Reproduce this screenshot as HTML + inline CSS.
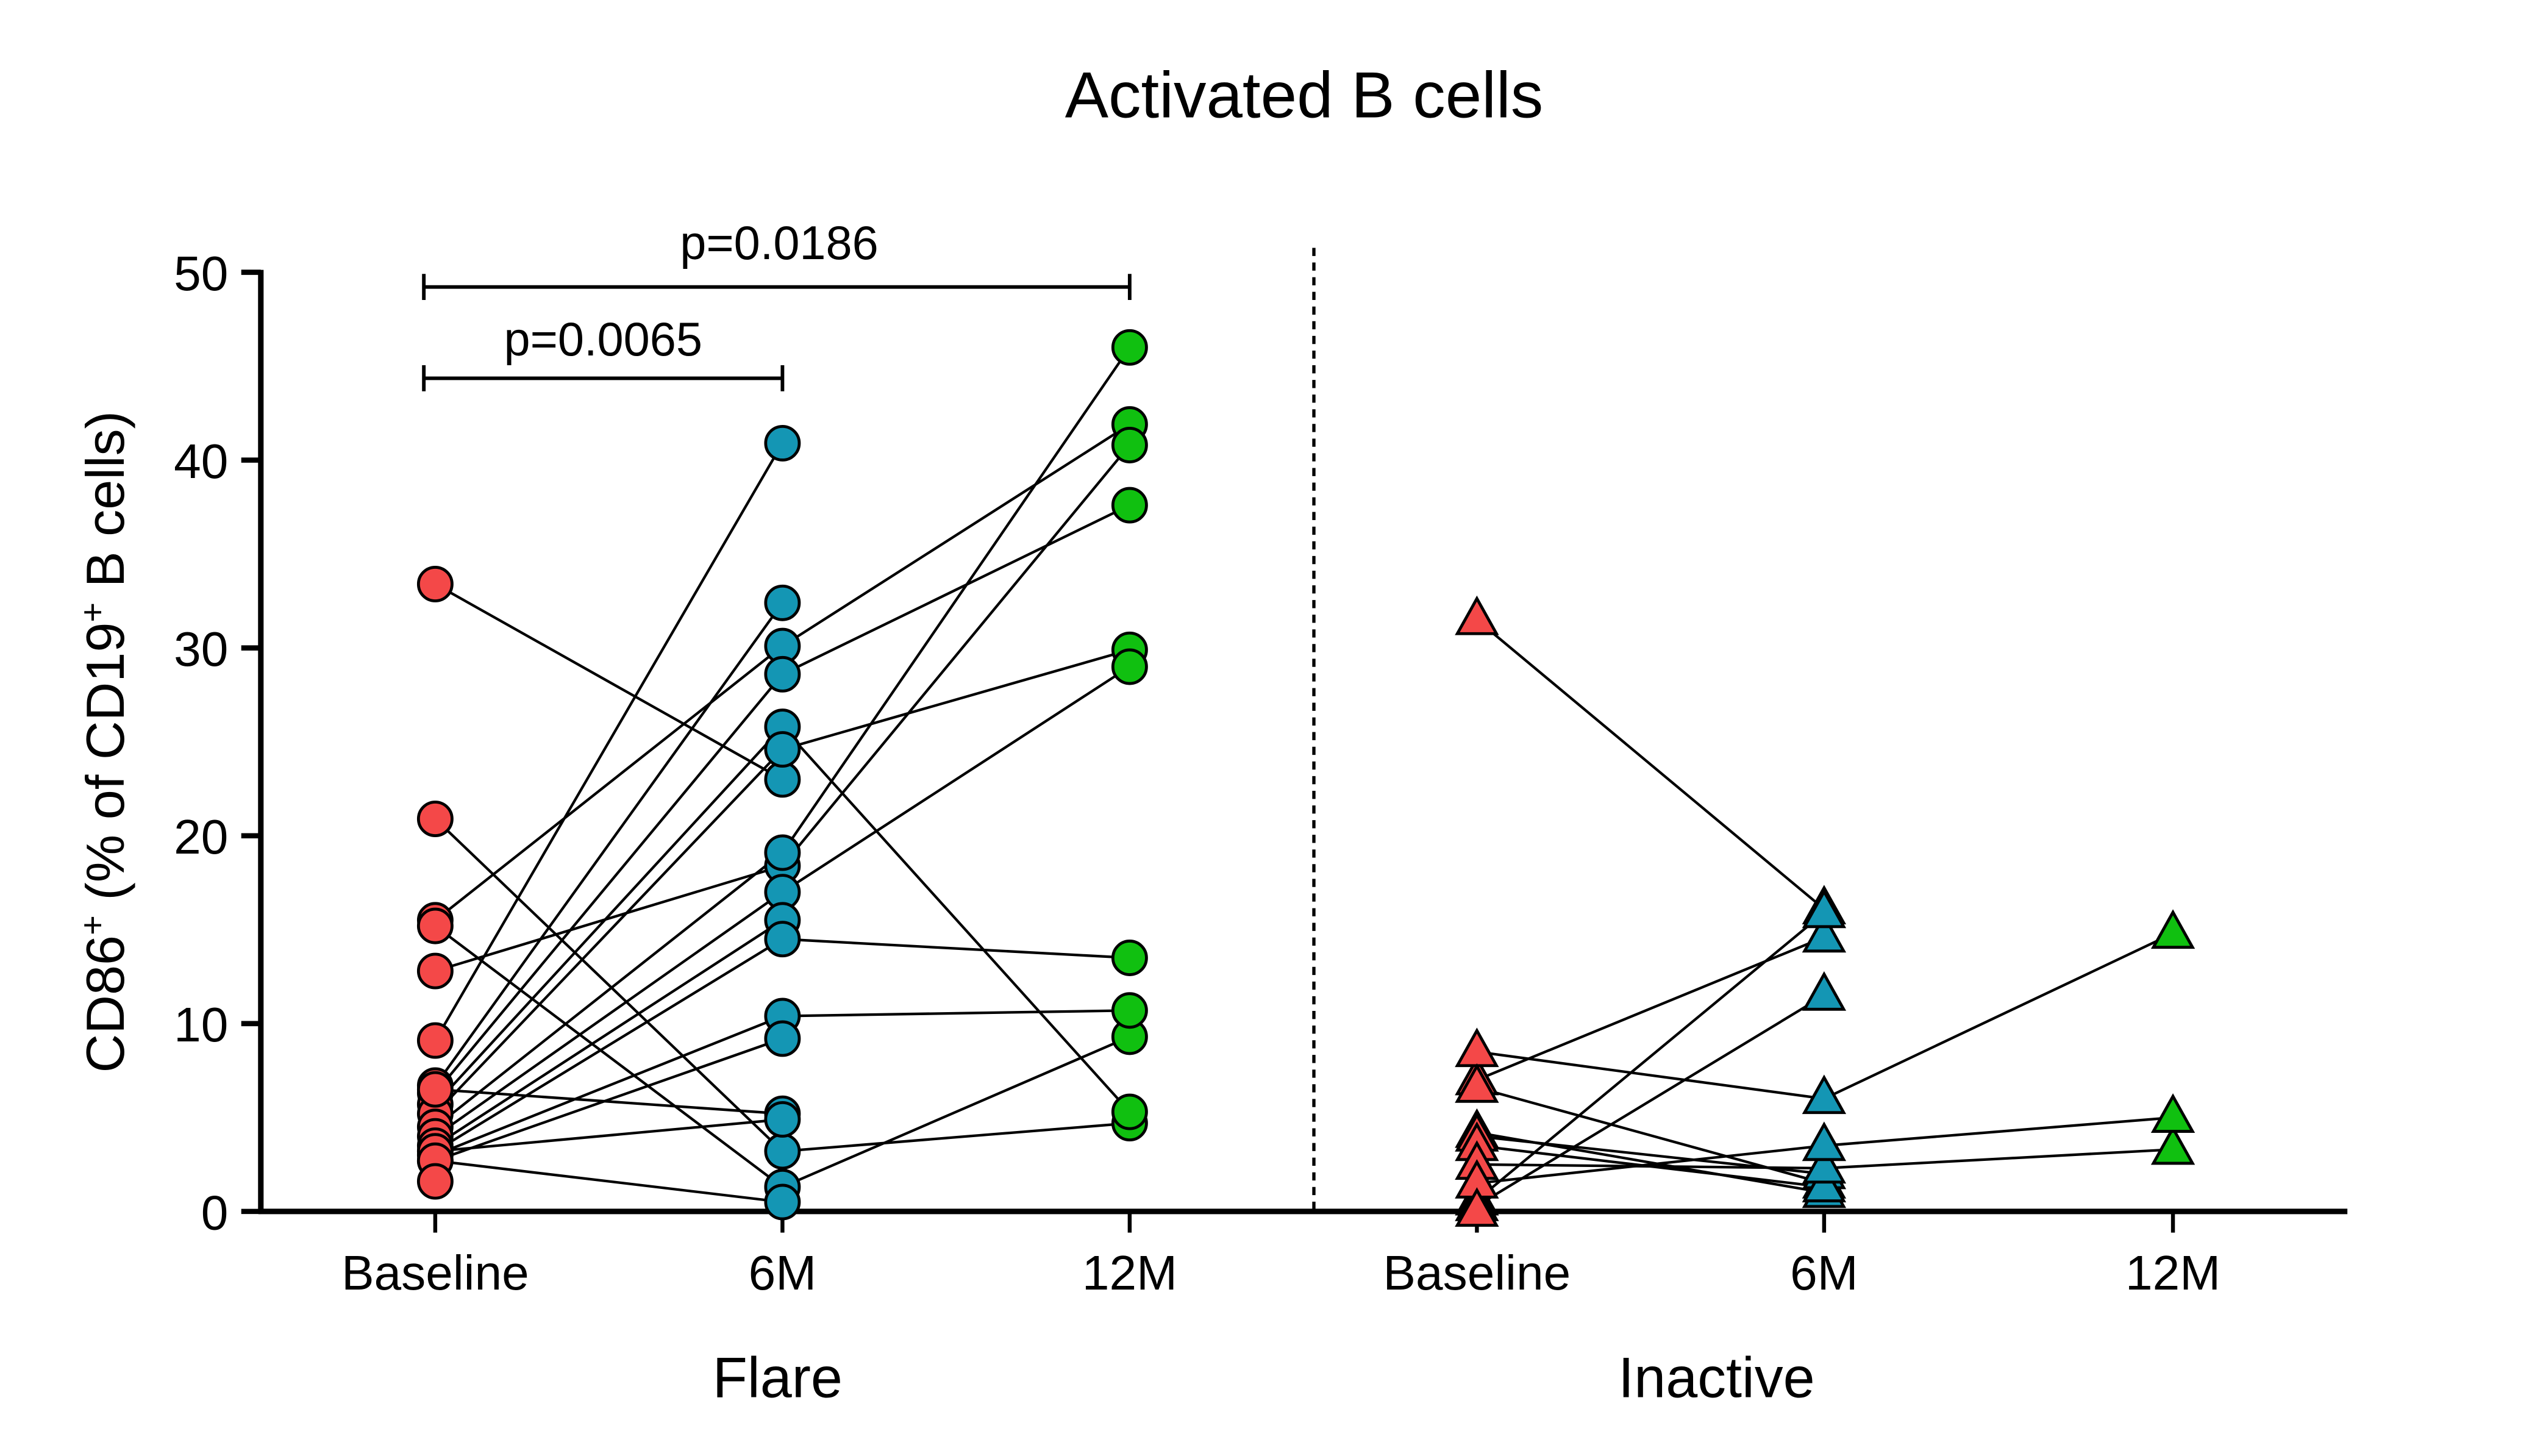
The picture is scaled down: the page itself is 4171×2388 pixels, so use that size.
<!DOCTYPE html>
<html><head><meta charset="utf-8"><style>
html,body{margin:0;padding:0;background:#fff;}
svg{display:block;font-family:"Liberation Sans",Arial,sans-serif;}
</style></head>
<body>
<svg id="chart" width="4171" height="2388" viewBox="0 0 1560 893" preserveAspectRatio="none" xmlns="http://www.w3.org/2000/svg">
<text x="800" y="72" text-anchor="middle" font-size="40">Activated B cells</text>
<text transform="translate(76,455) rotate(-90)" text-anchor="middle" font-size="33">CD86<tspan dy="-12" font-size="21">+</tspan><tspan dy="12"> (% of CD19</tspan><tspan dy="-12" font-size="21">+</tspan><tspan dy="12"> B cells)</tspan></text>
<g id="axes"></g>
<g id="lines"></g>
<g id="marks"></g>
<g stroke="#000" stroke-width="2.2" fill="none">
  <path d="M260,176 H693 M260,168 V184 M693,168 V184"/>
  <path d="M260,232 H480 M260,224 V240 M480,224 V240"/>
</g>
<text x="478" y="159" text-anchor="middle" font-size="29">p=0.0186</text>
<text x="370" y="218" text-anchor="middle" font-size="29">p=0.0065</text>
<line x1="806" y1="152" x2="806" y2="743" stroke="#000" stroke-width="2" stroke-dasharray="5,4"/>
<text x="477" y="857" text-anchor="middle" font-size="35">Flare</text>
<text x="1053" y="857" text-anchor="middle" font-size="35">Inactive</text>
</svg>
<script>
const yTicks = [0, 10, 20, 30, 40, 50];
const categories = ["Baseline", "6M", "12M", "Baseline", "6M", "12M"];
const flareBaseline = [33.4, 20.9, 15.5, 15.2, 12.8, 9.1, 6.7, 6.3, 5.7, 5.2, 4.5, 4.0, 3.5, 3.2, 3.0, 2.7, 6.5, 3.2, 2.7, 1.6];
const flare6M = [23.0, 3.2, 30.1, 1.3, 18.4, 40.9, 32.4, 28.6, 25.8, 24.6, 19.1, 17.0, 15.5, 14.5, 10.4, 9.2, 5.2, 4.9, 0.5, null];
const flare12M = [null, 4.7, 41.9, 9.3, 40.8, null, null, 37.6, 5.3, 29.9, 46.0, 29.0, null, 13.5, 10.7, null, null, null, null, null];
const inactiveBaseline = [31.5, 7.0, 8.5, 0.6, 0.3, 6.6, 4.2, 4.0, 3.5, 2.5, 1.5, 0.0];
const inactive6M = [16.1, 14.6, 6.0, 15.9, 11.5, 1.5, 1.0, 2.0, 1.3, 2.3, 3.5, null];
const inactive12M = [null, null, 14.8, null, null, null, null, null, null, 3.3, 5.0, null];

const NS = "http://www.w3.org/2000/svg";
const catX = [267, 480, 693, 906, 1119, 1333];
const yScale = v => 743 - v / 50 * 576;
const colors = ["#f44848", "#1496b4", "#10c010"];
function mk(tag, attrs, parent) {
  const e = document.createElementNS(NS, tag);
  for (const k in attrs) e.setAttribute(k, attrs[k]);
  parent.appendChild(e);
  return e;
}
const axes = document.getElementById("axes");
const ya = mk("line", {x1:160, y1:165.5, x2:160, y2:744.5, stroke:"#000", "stroke-width":3.4}, axes);


const xa = mk("line", {x1:158.5, y1:743, x2:1440, y2:743, stroke:"#000", "stroke-width":3.4}, axes);


yTicks.forEach(t => {
  const y = yScale(t);
  const tk = mk("line", {x1:148, y1:y, x2:160, y2:y, stroke:"#000", "stroke-width":3.2}, axes);
  
  
  const lb = mk("text", {x:140, y:y + 11, "text-anchor":"end", "font-size":30}, axes);
  lb.textContent = t;
  
  
});
categories.forEach((c, i) => {
  const x = catX[i];
  const tk = mk("line", {x1:x, y1:743, x2:x, y2:756, stroke:"#000", "stroke-width":2.4}, axes);
  
  
  const lb = mk("text", {x:x, y:791, "text-anchor":"middle", "font-size":30}, axes);
  lb.textContent = c;
  
  
});
const linesG = document.getElementById("lines");
const marksG = document.getElementById("marks");
function drawGroup(series, offset, shape) {
  const n = series[0].length;
  for (let i = 0; i < n; i++) {
    let prev = null;
    for (let s = 0; s < 3; s++) {
      const v = series[s][i];
      if (v === null) { prev = null; continue; }
      const pt = [catX[offset + s], yScale(v)];
      if (prev) {
        const l = mk("line", {x1:prev[0], y1:prev[1], x2:pt[0], y2:pt[1], stroke:"#000", "stroke-width":1.6}, linesG);
        
        
      }
      prev = pt;
    }
  }
  for (let s = 0; s < 3; s++) {
    series[s].forEach(v => {
      if (v === null) return;
      const x = catX[offset + s], y = yScale(v);
      let m;
      if (shape === "circle") {
        m = mk("circle", {cx:x, cy:y, r:10.3, fill:colors[s], stroke:"#000", "stroke-width":1.8}, marksG);
      } else {
        m = mk("polygon", {points:`${x},${y-13} ${x-12},${y+8.5} ${x+12},${y+8.5}`, fill:colors[s], stroke:"#000", "stroke-width":1.8}, marksG);
      }
      
      
    });
  }
}
drawGroup([flareBaseline, flare6M, flare12M], 0, "circle");
drawGroup([inactiveBaseline, inactive6M, inactive12M], 3, "triangle");
</script>
</body></html>
